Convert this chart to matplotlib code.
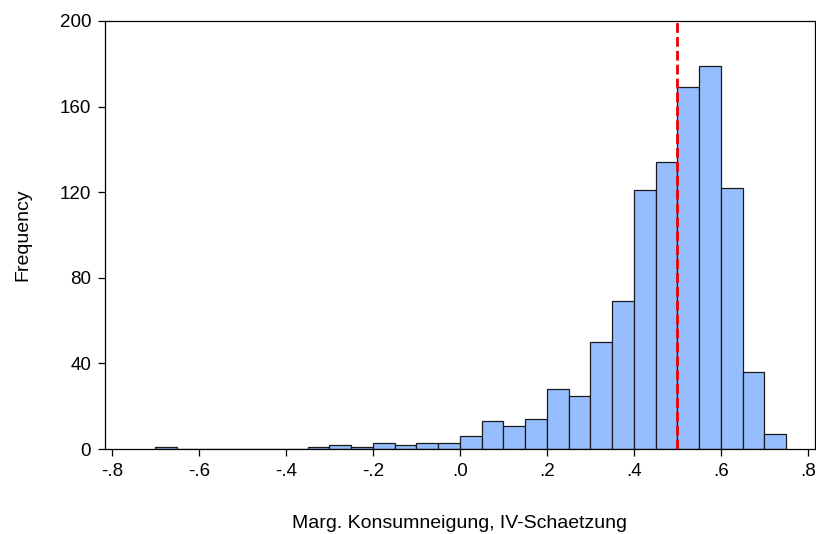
import numpy as np
from matplotlib import pyplot as plt

# histogram of 1000 draws, bin width .05
bin_lefts = np.round(np.arange(-0.70, 0.70 + 0.001, 0.05), 2)
counts = [1, 0, 0, 0, 0, 0, 0, 1, 2, 1, 3, 2, 3, 3,
          6, 13, 11, 14, 28, 25, 50, 69, 121, 134, 169, 179, 122, 36, 7]
ref_value = 0.5
x_ticks = [-0.8, -0.6, -0.4, -0.2, 0.0, 0.2, 0.4, 0.6, 0.8]
x_ticklabels = ["-.8", "-.6", "-.4", "-.2", ".0", ".2", ".4", ".6", ".8"]
y_ticks = [0, 40, 80, 120, 160, 200]

plt.rcParams['font.family'] = ['Liberation Sans', 'DejaVu Sans']

fig = plt.figure(figsize=(8.16, 5.34), dpi=100)
ax = fig.add_axes([0.1287, 0.159, 0.870, 0.8017])

ax.bar(bin_lefts, counts, width=0.05, align='edge', color='#96BEFF',
       edgecolor='#1a1a1a', linewidth=0.9)
ax.axvline(ref_value, color='#ee0000', linestyle=(0, (3.5, 1.5)), linewidth=2)

ax.set_xlim(-0.816, 0.816)
ax.set_ylim(0, 200)
ax.set_xticks(x_ticks)
ax.set_xticklabels(x_ticklabels)
ax.set_yticks(y_ticks)
ax.tick_params(direction='out', length=5, width=0.9, labelsize=13.5, pad=5)
for s in ax.spines.values():
    s.set_linewidth(0.9)

ax.set_xlabel("Marg. Konsumneigung, IV-Schaetzung", fontsize=14, labelpad=25)
ax.set_ylabel("Frequency", fontsize=14, labelpad=20)

fig.savefig("out.png", dpi=100)
